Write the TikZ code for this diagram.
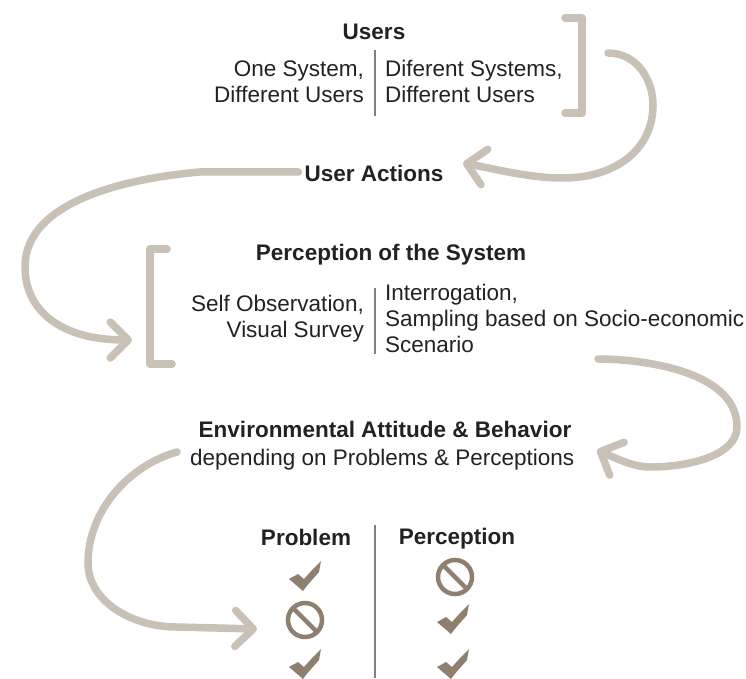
\documentclass[tikz,border=0pt]{standalone}
\usepackage{fontspec}
\setmainfont{Liberation Sans}
\usetikzlibrary{arrows.meta, positioning, shapes.symbols}
\definecolor{curvecol}{HTML}{C9C0B6}
\definecolor{signcol}{HTML}{8F7F6E}
\definecolor{rulecol}{HTML}{808080}
\definecolor{textcol}{HTML}{222222}
\tikzstyle{head} = [text=textcol, font=\fontsize{22.5}{26}\selectfont\bfseries, inner sep=0pt, align=center]
\tikzstyle{lefttext} = [text=textcol, font=\fontsize{22.5}{26}\selectfont, inner sep=0pt, align=right, anchor=east]
\tikzstyle{righttext} = [text=textcol, font=\fontsize{22.5}{26}\selectfont, inner sep=0pt, align=left, anchor=west]
\tikzstyle{bracket} = [draw=curvecol, line width=7.5pt, line cap=round, line join=round]
\tikzstyle{curve} = [bracket, -{Straight Barb[round, length=18pt, width=36pt, line width=7.5pt]}]
\tikzstyle{divider} = [draw=rulecol, line width=1.3pt]
\tikzstyle{nosign} = [forbidden sign, draw=signcol, line width=4.5pt, minimum size=34pt, inner sep=0pt, rotate=90]
\tikzset{
  checksign/.pic={
    \fill[signcol] (-16,2) -- (-7,-3) -- (-1,2) -- (8,-8) -- (16,-16) -- (14,-5) .. controls (8,2) and (3,7) .. (-2,14) -- cycle;
  }
}
\begin{document}
\begin{tikzpicture}[x=1pt, y=-1pt]
\useasboundingbox (0,0) rectangle (746,679);

% Users
\node (users) [head] at (374,32) {Users};
\node (oneSys) [lefttext] at (364,82) {One System,\\Different Users};
\node (difSys) [righttext] at (385,81) {Diferent Systems,\\Different Users};
\draw [divider] (375,50) -- (375,116);
\draw [bracket] (565,18) -- (582,18) -- (582,113) -- (565,113);

% User actions
\node (actions) [head] at (374,173) {User Actions};

% Perception
\node (percept) [head] at (391,255) {Perception of the System};
\node (selfObs) [lefttext] at (364,319) {Self Observation,\\Visual Survey};
\node (interr) [righttext] at (385,318) {Interrogation,\\Sampling based on Socio-economic\\Scenario};
\draw [divider] (375,288) -- (375,354);
\draw [bracket] (167,249) -- (150,249) -- (150,364) -- (172,364);

% Attitude
\node (attitude) [head] at (385,429) {Environmental Attitude \& Behavior};
\node (depend) [righttext] at (190,460) {depending on Problems \& Perceptions};

% Table of signs
\node (problem) [head] at (306,537) {Problem};
\node (perception) [head] at (457,539) {Perception};
\draw [divider] (375,525) -- (375,678);
\pic at (305,577) {checksign};
\node (noProblem) [nosign] at (305,620) {};
\pic at (305,665) {checksign};
\node (noPercept) [nosign] at (455,577) {};
\pic at (453,620) {checksign};
\pic at (453,665) {checksign};

% Curved arrows
\coordinate (start1) at (608,53);
\coordinate (end2) at (132,340);
\coordinate (start3) at (598,359);
\coordinate (start4) at (177,452);
\coordinate (end4) at (257,629);
\draw [curve] (start1) .. controls (637,53) and (653,80) .. (653,105) .. controls (653,150) and (615,178) .. (563,178) .. controls (530,178) and (500,170) .. (463,163);
\draw [curve] (actions.west) ++(-6,-1) -- (200,172) .. controls (130,178) and (25,200) .. (25,267) .. controls (25,310) and (60,340) .. (end2);
\draw [curve] (start3) .. controls (640,359) and (737,370) .. (737,427) .. controls (737,455) and (690,467) .. (650,467) .. controls (635,467) and (622,461) .. (597,450);
\draw [curve] (start4) .. controls (130,465) and (88,510) .. (88,563) .. controls (88,600) and (130,627) .. (177,627) -- (end4);

\end{tikzpicture}
\end{document}
